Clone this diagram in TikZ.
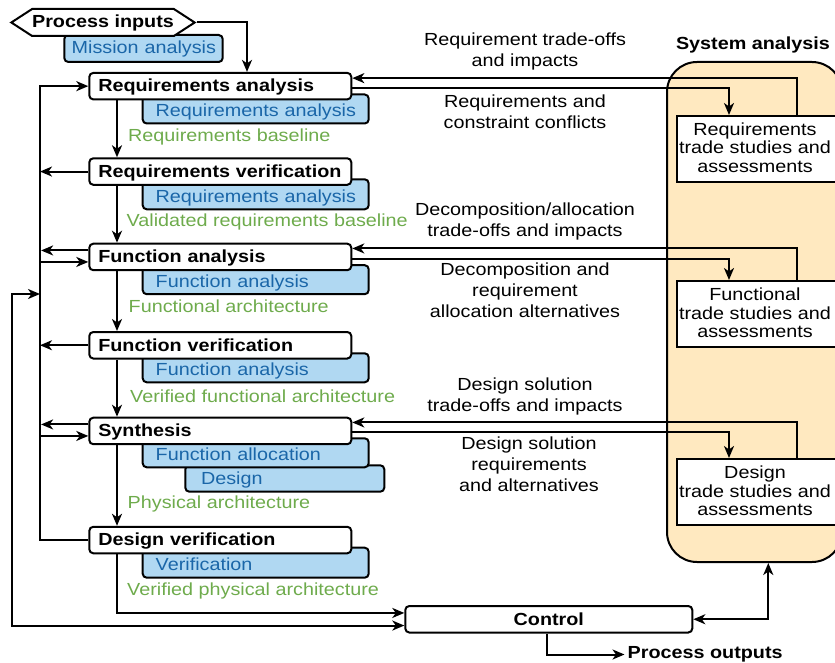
\documentclass[tikz,border=0pt]{standalone}
\usepackage{fontspec}
\setmainfont{Liberation Sans}[FakeStretch=1.13]
\usetikzlibrary{arrows.meta,shapes.symbols}
\definecolor{bfill}{HTML}{B0D8F2}
\definecolor{btext}{HTML}{1A66A8}
\definecolor{gtext}{HTML}{6EAB4C}
\definecolor{ofill}{HTML}{FFE9C0}
\newcommand\dgfont{\fontsize{17.5}{21}\selectfont}
\begin{document}
\begin{tikzpicture}[x=1pt,y=-1pt,
  arr/.style={line width=2pt,-{Stealth[length=12pt,width=10pt,inset=3.5pt]}},
  dbl/.style={line width=2pt,{Stealth[length=12pt,width=10pt,inset=3.5pt]}-{Stealth[length=12pt,width=10pt,inset=3.5pt]}},
  mainbox/.style={draw,line width=2pt,fill=white,rounded corners=4pt,anchor=north west,minimum width=262pt,minimum height=26.5pt,inner xsep=9pt,inner ysep=0pt,text width=244pt,align=left,font=\dgfont\bfseries,text height=15pt,text depth=3.5pt},
  bluebox/.style={draw,line width=2pt,fill=bfill,text=btext,rounded corners=4pt,anchor=north west,minimum width=226pt,minimum height=29pt,inner xsep=13pt,inner ysep=0pt,text width=200pt,align=left,font=\dgfont,text height=19pt,text depth=3.5pt},
  glabel/.style={anchor=west,inner sep=0pt,text=gtext,font=\dgfont},
  note/.style={align=center,font=\dgfont,inner sep=0pt},
  tsbox/.style={draw,line width=2pt,fill=white,anchor=north west,minimum width=170pt,minimum height=66pt,inner sep=0pt},
  tstext/.style={align=center,font=\fontsize{17.5}{18.5}\selectfont,inner sep=0pt}
]
\useasboundingbox (0,0) rectangle (835,663);

% System analysis container
\node[draw,line width=2pt,fill=ofill,rounded corners=30pt,minimum width=175pt,minimum height=500pt,inner sep=0pt] (SA) at (754.5,312) {};
\node[font=\dgfont\bfseries,inner sep=0pt] (SAt) at (753,45) {System analysis};
\node[tsbox] (RTS) at (676,115) {};
\node[tstext] (RTSt) at (755,147.5) {Requirements\\trade studies and\\assessments};
\node[tsbox] (FTS) at (676,280) {};
\node[tstext] (FTSt) at (755,313) {Functional\\trade studies and\\assessments};
\node[tsbox] (DTS) at (676,458) {};
\node[tstext] (DTSt) at (755,491) {Design\\trade studies and\\assessments};

% Process inputs
\node[bluebox,minimum width=158.4pt,minimum height=27pt,inner xsep=7.4pt,text width=143.6pt,text height=14pt] (MA) at (63.3,34) {\mbox{Mission analysis}};
\node[signal,signal to=west and east,draw,line width=2pt,fill=white,font=\dgfont\bfseries,inner xsep=0pt,inner ysep=0pt,minimum height=27pt,signal pointer angle=66] (PIN) at (103,22.5) {Process inputs};

% Blue boxes (behind)
\node[bluebox] (RAb) at (141.7,93.5) {\mbox{Requirements analysis}};
\node[bluebox,minimum height=30pt] (RVb) at (141.7,178.3) {\mbox{Requirements analysis}};
\node[bluebox] (FAb) at (141.7,264.2) {\mbox{Function analysis}};
\node[bluebox] (FVb) at (141.7,352.3) {\mbox{Function analysis}};
\node[bluebox,minimum width=199pt,minimum height=26.4pt,inner xsep=15.7pt,text width=167.6pt,text height=15pt] (SYd) at (184.3,464.3) {Design};
\node[bluebox] (SYb) at (141.7,437.3) {\mbox{Function allocation}};
\node[bluebox,minimum height=30pt] (DVb) at (141.7,546.7) {Verification};

% Main boxes
\node[mainbox] (RA) at (88.3,71.9) {\mbox{Requirements analysis}};
\node[mainbox] (RV) at (88.3,157.3) {\mbox{Requirements verification}};
\node[mainbox] (FA) at (88.3,242.7) {Function analysis};
\node[mainbox] (FV) at (88.3,331) {Function verification};
\node[mainbox] (SY) at (88.3,416.7) {Synthesis};
\node[mainbox] (DV) at (88.3,525.8) {Design verification};
\node[mainbox,minimum width=287pt,text width=269pt,align=center] (CTL) at (404.3,605) {Control};
\node[font=\dgfont\bfseries,anchor=west,inner xsep=3pt,inner ysep=0pt] (POUT) at (624.5,654.5) {Process outputs};

% Green labels
\node[glabel] (g1) at (128,136.5) {Requirements baseline};
\node[glabel] (g2) at (126.5,221.7) {Validated requirements baseline};
\node[glabel] (g3) at (128.5,306.7) {Functional architecture};
\node[glabel] (g4) at (130,396) {Verified functional architecture};
\node[glabel] (g5) at (127.5,504) {Physical architecture};
\node[glabel] (g6) at (127,590.5) {Verified physical architecture};

% Notes
\node[note] (L1) at (525,51) {Requirement trade-offs\\and impacts};
\node[note] (L2) at (525,111.5) {Requirements and\\constraint conflicts};
\node[note] (L3) at (525,221) {Decomposition/allocation\\trade-offs and impacts};
\node[note] (L4) at (525,290) {Decomposition and\\requirement\\allocation alternatives};
\node[note] (L5) at (525,396.5) {Design solution\\trade-offs and impacts};
\node[note] (L6) at (529,464.5) {Design solution\\requirements\\and alternatives};

% Coordinates
\coordinate (busx) at (40,0);
\coordinate (oc) at (12,294);
\coordinate (bj) at (40,294);

% Process inputs to requirements analysis
\draw[arr] (PIN.east) -| ([xshift=158.7pt]RA.north west);

% Vertical flow
\draw[arr] ([xshift=28.7pt]RA.south west) -- ([xshift=28.7pt]RV.north west);
\draw[arr] ([xshift=28.7pt]RV.south west) -- ([xshift=28.7pt]FA.north west);
\draw[arr] ([xshift=28.7pt]FA.south west) -- ([xshift=28.7pt]FV.north west);
\draw[arr] ([xshift=28.7pt]FV.south west) -- ([xshift=28.7pt]SY.north west);
\draw[arr] ([xshift=28.7pt]SY.south west) -- ([xshift=28.7pt]DV.north west);
\draw[arr] ([xshift=28.7pt]DV.south west) |- ([yshift=6.3pt]CTL.west);

% Left bus
\draw[arr] (DV.west) -| (busx |- RA.west) -- (RA.west);
\draw[arr] (RV.west) -- (busx |- RV.west);
\draw[arr] ([yshift=6.5pt]FA.west) -- ++(-47.2,0);
\draw[arr] ([yshift=-5pt]FA.west) ++(-47.2,0) -- ([yshift=-5pt]FA.west);
\draw[arr] (FV.west) -- (busx |- FV.west);
\draw[arr] ([yshift=6.5pt]SY.west) -- ++(-47.2,0);
\draw[arr] ([yshift=-5pt]SY.west) ++(-47.2,0) -- ([yshift=-5pt]SY.west);
\draw[dbl] ([yshift=-6.3pt]CTL.west) -| (oc) -- (bj);

% Control connections
\draw[dbl] (CTL.east) -| ([xshift=13.8pt]SA.south);
\draw[arr] ([xshift=-2pt]CTL.south) |- (POUT.west);

% System analysis exchanges
\draw[arr] ([xshift=121pt]RTS.north west) |- ([yshift=8pt]RA.east);
\draw[arr] ([yshift=-2pt]RA.east) -| ([xshift=53pt]RTS.north west);
\draw[arr] ([xshift=121pt]FTS.north west) |- ([yshift=8.5pt]FA.east);
\draw[arr] ([yshift=-1.8pt]FA.east) -| ([xshift=53pt]FTS.north west);
\draw[arr] ([xshift=121pt]DTS.north west) |- ([yshift=8.5pt]SY.east);
\draw[arr] ([yshift=-1.2pt]SY.east) -| ([xshift=53pt]DTS.north west);
\end{tikzpicture}
\end{document}
